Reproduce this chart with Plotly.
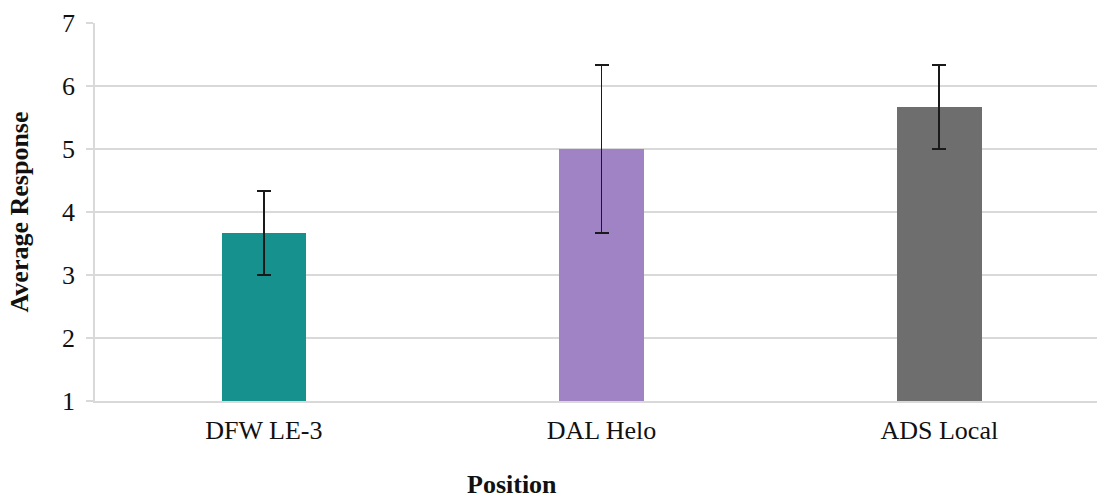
import plotly.graph_objects as go

categories = ["DFW LE-3", "DAL Helo", "ADS Local"]
values = [3.667, 5.0, 5.667]
errors = [0.667, 1.333, 0.667]
colors = ["#17918E", "#9F83C4", "#6E6E6E"]
y_ticks = [1, 2, 3, 4, 5, 6, 7]

FONT = "Liberation Serif, Times New Roman, serif"
FS = 26

fig = go.Figure()
fig.add_trace(go.Bar(
    x=categories,
    y=values,
    width=0.25,
    marker=dict(color=colors, line=dict(width=0)),
    error_y=dict(type="data", array=errors, visible=True,
                 color="#1a1a1a", thickness=1.6, width=7),
    showlegend=False,
))

fig.update_layout(
    width=1097, height=498,
    margin=dict(l=95, r=0, t=23, b=97, pad=0),
    paper_bgcolor="white", plot_bgcolor="white",
    font=dict(family=FONT, size=FS, color="#111111"),
    bargap=0,
)
fig.update_xaxes(
    type="category",
    range=[-0.5, 2.467],
    showgrid=False, zeroline=False,
    showline=True, linecolor="#d9d9d9", linewidth=1.5,
    ticks="", ticklabelstandoff=5,
    tickfont=dict(family=FONT, size=FS, color="#111111"),
    automargin=False,
)
fig.update_yaxes(
    range=[1, 7],
    tickvals=y_ticks,
    showgrid=True, gridcolor="#d9d9d9", gridwidth=1.5,
    zeroline=False,
    showline=True, linecolor="#d9d9d9", linewidth=1.5,
    ticks="outside", ticklen=7, tickcolor="#d9d9d9", tickwidth=1.5,
    ticklabelstandoff=6,
    tickfont=dict(family=FONT, size=FS, color="#111111"),
    title=dict(text="<b>Average Response</b>", font=dict(family=FONT, size=FS, color="#111111"), standoff=26),
    automargin=False,
)
fig.add_annotation(
    text="<b>Position</b>", xref="paper", yref="paper",
    x=(512 - 95) / 1002, y=-(484 - 401) / 378,
    xanchor="center", yanchor="middle", showarrow=False,
    font=dict(family=FONT, size=FS, color="#111111"),
)

fig.write_html(
    "out.html",
    config={"displayModeBar": False},
    post_script="document.body.style.margin='0';document.body.style.overflow='hidden';",
)
